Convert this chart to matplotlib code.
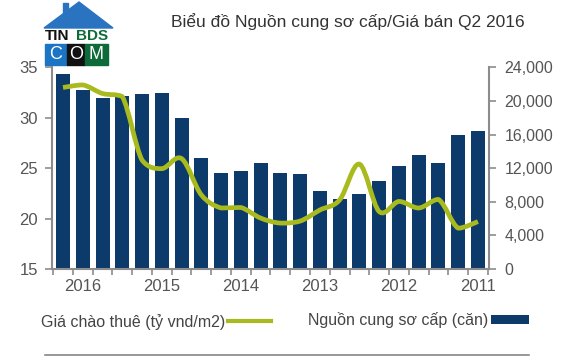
import numpy as np
import matplotlib.pyplot as plt
from matplotlib.path import Path
from matplotlib.patches import PathPatch, Polygon, Rectangle, Patch
from matplotlib.lines import Line2D
from matplotlib.ticker import FuncFormatter

plt.rcParams['font.family'] = ['Liberation Sans', 'DejaVu Sans']

# quý theo thứ tự thời gian: Q1 2011 -> Q2 2016 (trục x hiển thị ngược)
years = ['2011', '2012', '2013', '2014', '2015', '2016']
year_pos = [0, 4, 8, 12, 16, 20]
supply = [16440, 15920, 12640, 13560, 12240, 10480, 8960, 8360, 9240, 11360, 11480,
          12560, 11720, 11480, 13200, 18000, 20890, 20770, 20560, 20360, 21300, 23200]
price = [19.7, 19.05, 21.9, 21.05, 21.7, 20.7, 25.4, 21.85, 20.85, 19.75, 19.55,
         20.05, 21.1, 21.05, 22.35, 25.95, 24.95, 25.8, 32.1, 32.4, 33.25, 33.0]

bar_col = '#0c3a6b'
line_col = '#a9ba1f'
axis_col = '#8c8c8c'
txt_col = '#555555'

W, H = 566, 358
fig = plt.figure(figsize=(W / 100, H / 100), dpi=100)

# lớp nền để vẽ logo + đường kẻ dưới
bg = fig.add_axes([0, 0, 1, 1], zorder=-5)
bg.set_xlim(0, W)
bg.set_ylim(H, 0)
bg.axis('off')

ax = fig.add_axes([52 / W, 1 - 269 / H, (489 - 52) / W, (269 - 67.3) / H])
ax2 = ax.twinx()
ax.set_zorder(1)
ax2.set_zorder(2)
ax.patch.set_visible(False)
ax2.patch.set_visible(False)

x = np.arange(len(supply))
ax.bar(x, supply, width=0.71, color=bar_col, zorder=2)
ax.set_ylim(0, 24000)
ax.set_xlim(21.557, -0.56)
ax.yaxis.tick_right()
ax.set_yticks(np.arange(0, 24001, 4000))
ax.yaxis.set_major_formatter(FuncFormatter(lambda v, p: f'{int(v):,}'))

# đường giá làm mượt (bezier qua từng điểm, chặn điểm điều khiển để không vọt lố)
pts = np.column_stack([x, price]).astype(float)
verts = [pts[0]]
codes = [Path.MOVETO]
n = len(pts)
for i in range(n - 1):
    p0 = pts[max(i - 1, 0)]
    p1 = pts[i]
    p2 = pts[i + 1]
    p3 = pts[min(i + 2, n - 1)]
    c1 = p1 + (p2 - p0) / 6
    c2 = p2 - (p3 - p1) / 6
    lo, hi = min(p1[1], p2[1]), max(p1[1], p2[1])
    c1[1] = np.clip(c1[1], lo, hi) if abs(p2[1] - p1[1]) < 1 else c1[1]
    c2[1] = np.clip(c2[1], lo, hi) if abs(p2[1] - p1[1]) < 1 else c2[1]
    verts += [c1, c2, p2]
    codes += [Path.CURVE4] * 3
ax2.add_patch(PathPatch(Path(verts, codes), fill=False, edgecolor=line_col,
                        lw=3.4, capstyle='butt', joinstyle='round'))
ax2.set_ylim(15, 35)
ax2.yaxis.tick_left()
ax2.set_yticks([15, 20, 25, 30, 35])

for a in (ax, ax2):
    for s in a.spines.values():
        s.set_visible(False)
for k in ('left', 'right', 'bottom'):
    ax2.spines[k].set_visible(True)
    ax2.spines[k].set_color(axis_col)
    ax2.spines[k].set_linewidth(1.5)

ax.set_xticks(year_pos)
ax.set_xticklabels(years)
ax.set_xticks(np.arange(-0.5, 22, 1), minor=True)
ax.tick_params(axis='x', which='major', length=0, pad=7, labelsize=12, labelcolor=txt_col)
ax.tick_params(axis='x', which='minor', length=4, width=1.2, color=axis_col)
ax.tick_params(axis='y', length=5, width=1.2, color=axis_col, labelsize=11.5,
               labelcolor=txt_col, pad=6)
ax2.tick_params(axis='y', length=5, width=1.2, color=axis_col, labelsize=12,
                labelcolor=txt_col, pad=5)
ax2.tick_params(axis='x', which='both', length=0, labelbottom=False)

fig.text(525 / W, 1 - 22 / H, 'Biểu đồ Nguồn cung sơ cấp/Giá bán Q2 2016',
         ha='right', va='center', fontsize=12.5, color='#333333')

fig.legend(handles=[Line2D([], [], color=line_col, lw=3)],
           labels=['Giá chào thuê (tỷ vnd/m2)'], markerfirst=False, frameon=False,
           loc='center right', bbox_to_anchor=(271 / W, 1 - 322 / H),
           borderpad=0, borderaxespad=0, handlelength=2.7, handletextpad=0.15,
           fontsize=11.5, labelcolor='#444444')
fig.legend(handles=[Patch(facecolor=bar_col, edgecolor='none')],
           labels=['Nguồn cung sơ cấp (căn)'], markerfirst=False, frameon=False,
           loc='center right', bbox_to_anchor=(529 / W, 1 - 320 / H),
           borderpad=0, borderaxespad=0, handlelength=2.4, handleheight=0.5,
           handletextpad=0.15, fontsize=11.5, labelcolor='#444444')

bg.plot([45, 529], [355, 355], color='#7a7a7a', lw=1.1)

# logo
bg.add_patch(Polygon([[44, 28], [79, 2], [113, 28]], closed=True, color='#2a73c0'))
bg.add_patch(Rectangle((63, 3), 5, 10, color='#2a73c0'))
bg.text(45, 36, 'TIN', ha='left', va='center', fontsize=11, fontweight='bold', color='#111111')
bg.text(108, 36, 'BDS', ha='right', va='center', fontsize=11, fontweight='bold', color='#0d6b3a')
for x0, x1, c, t in [(45, 67, '#1b74c4', 'C'), (67, 85, '#111111', 'O'), (85, 108, '#0d6b3a', 'M')]:
    bg.add_patch(Rectangle((x0, 44), x1 - x0, 21, color=c))
    bg.text((x0 + x1) / 2, 54.5, t, ha='center', va='center', fontsize=13, color='white')

fig.savefig('out.png', dpi=100)
